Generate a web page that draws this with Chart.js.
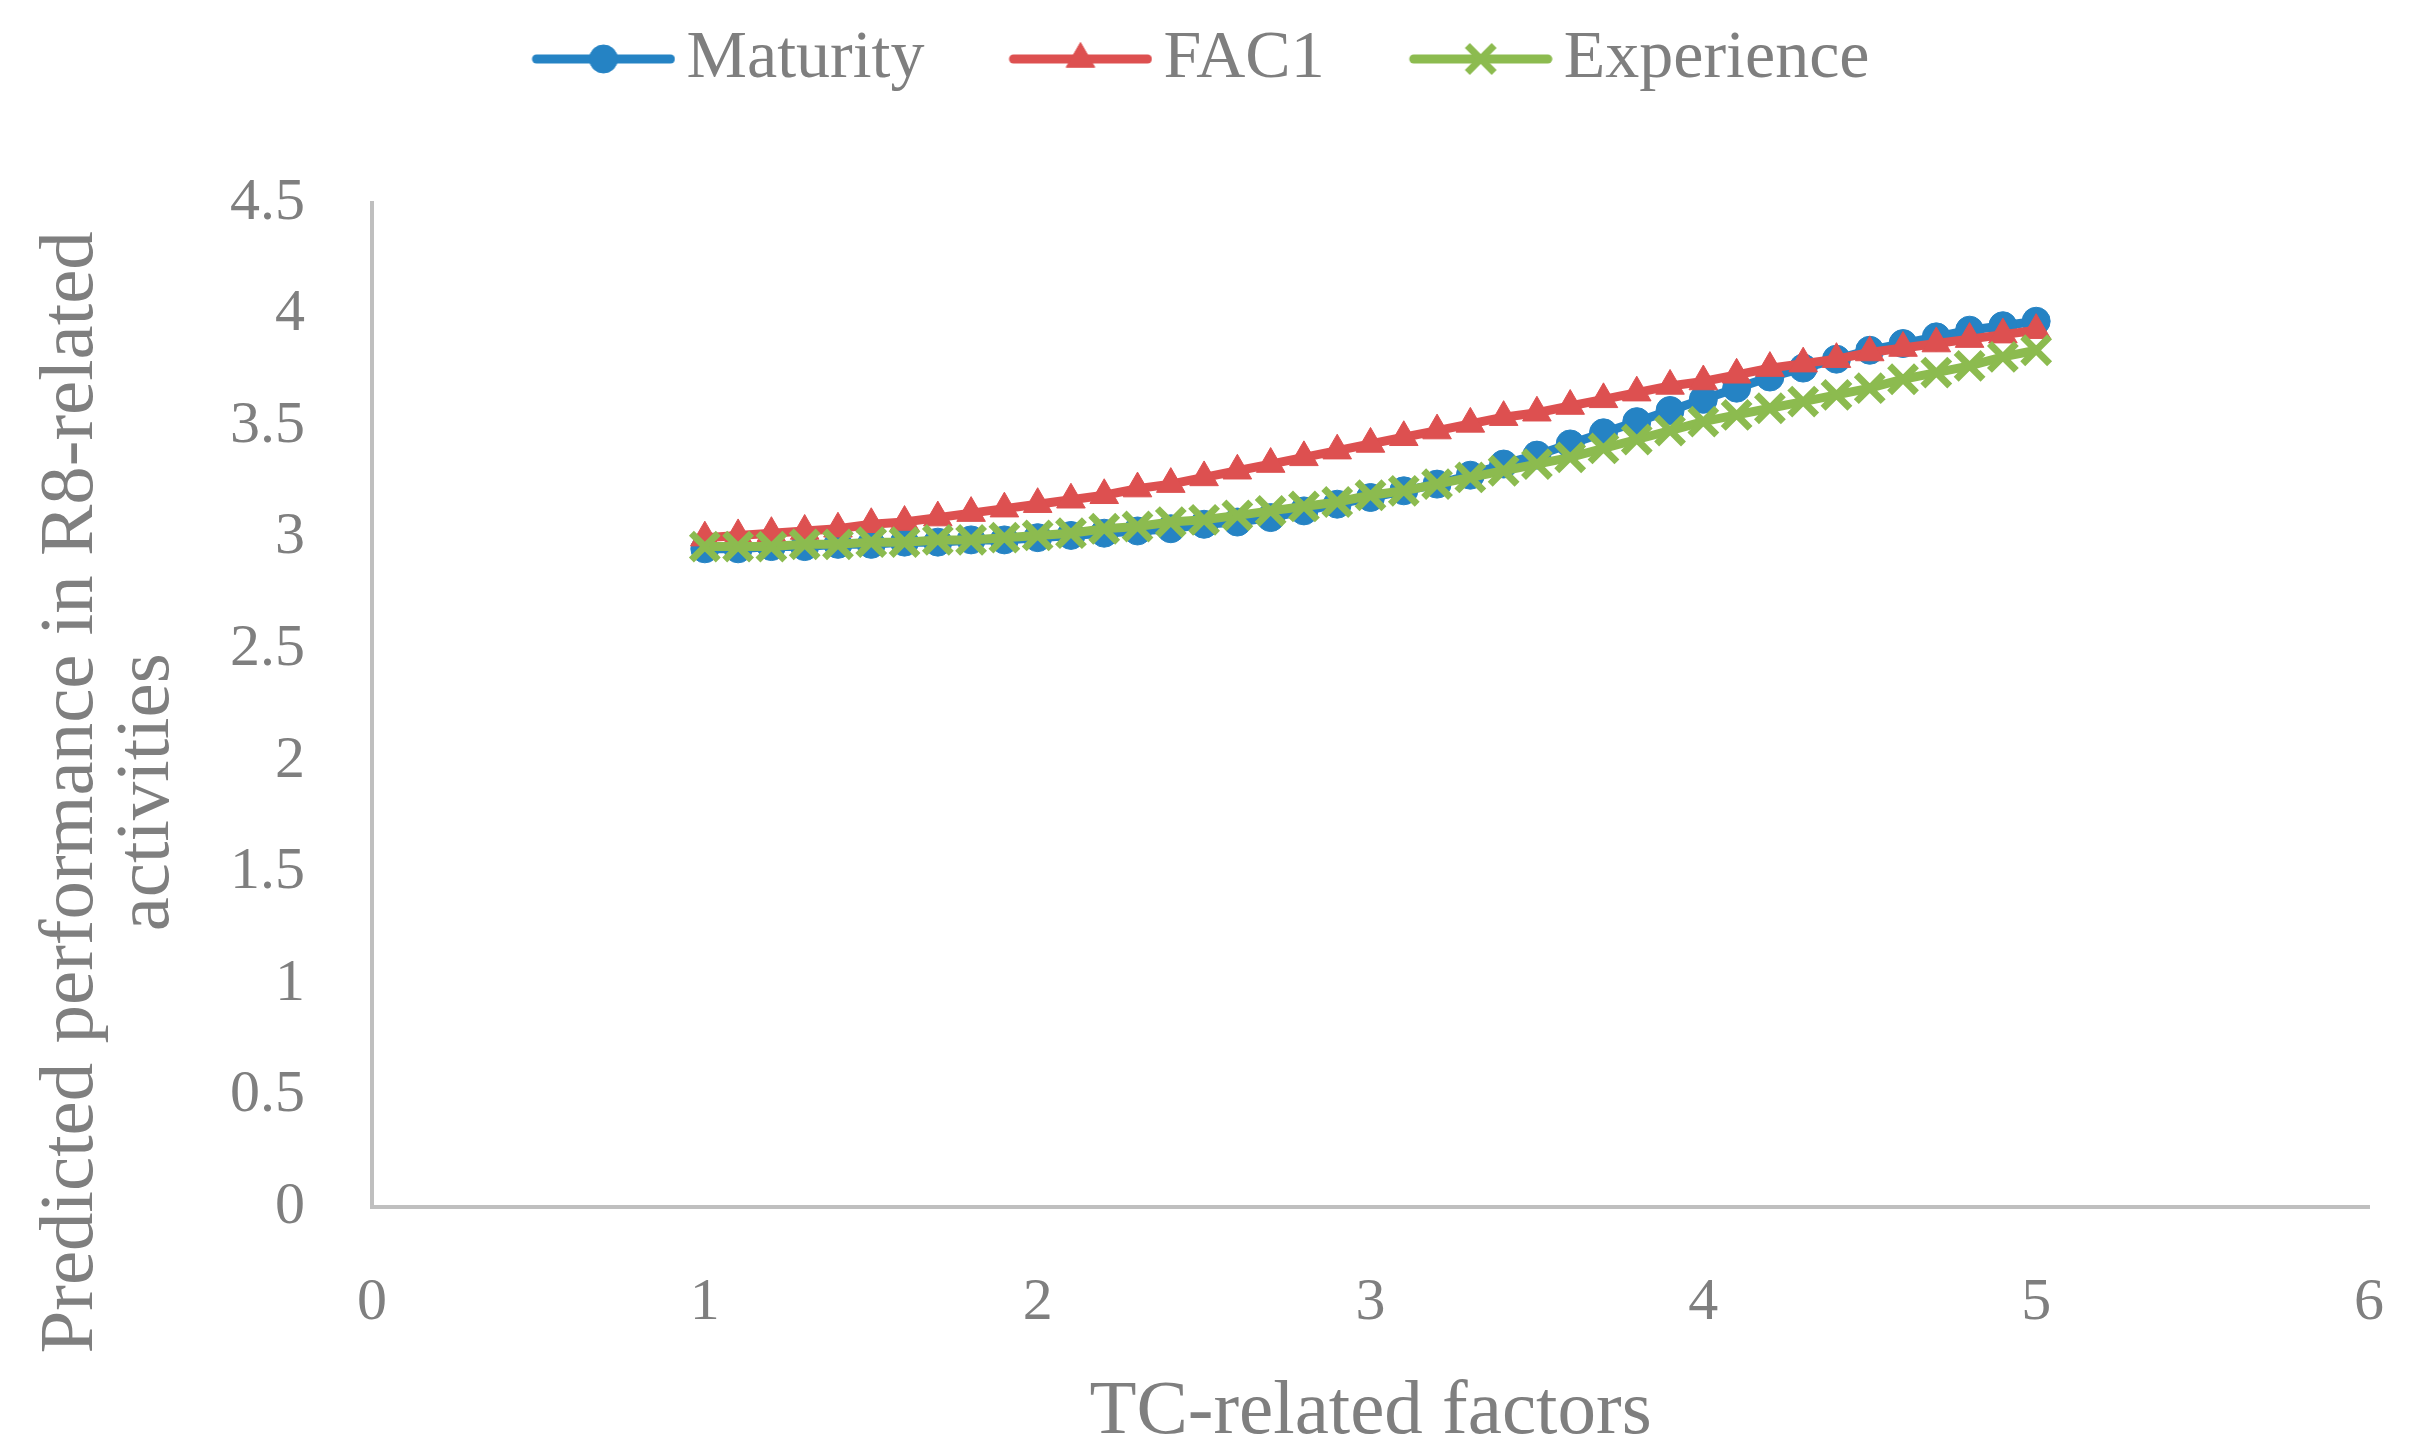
<!DOCTYPE html>
<html>
<head>
<meta charset="UTF-8">
<title>Predicted performance in R8-related activities</title>
<script src="https://cdn.jsdelivr.net/npm/chart.js"></script>
<style>
  html, body { margin: 0; padding: 0; background: #ffffff; }
  #chart { display: block; }
</style>
</head>
<body>
<canvas id="chart" width="2418" height="1451"></canvas>
<script>
// TC-related factor values (x)
const tcFactors = [1.0, 1.1, 1.2, 1.3, 1.4, 1.5, 1.6, 1.7, 1.8, 1.9,
                   2.0, 2.1, 2.2, 2.3, 2.4, 2.5, 2.6, 2.7, 2.8, 2.9,
                   3.0, 3.1, 3.2, 3.3, 3.4, 3.5, 3.6, 3.7, 3.8, 3.9,
                   4.0, 4.1, 4.2, 4.3, 4.4, 4.5, 4.6, 4.7, 4.8, 4.9, 5.0];

// predicted performance
const maturity = [2.95, 2.95, 2.96, 2.96, 2.97, 2.97, 2.98, 2.98, 2.99, 2.99,
                  3.00, 3.01, 3.02, 3.03, 3.04, 3.06, 3.07, 3.09, 3.12, 3.15,
                  3.18, 3.21, 3.24, 3.28, 3.33, 3.37, 3.42, 3.47, 3.52, 3.57,
                  3.62, 3.67, 3.72, 3.76, 3.80, 3.84, 3.87, 3.90, 3.93, 3.95, 3.97];
const fac1 = [3.00, 3.01, 3.02, 3.03, 3.04, 3.06, 3.07, 3.09, 3.11, 3.13,
              3.15, 3.17, 3.19, 3.22, 3.24, 3.27, 3.30, 3.33, 3.36, 3.39,
              3.42, 3.45, 3.48, 3.51, 3.54, 3.56, 3.59, 3.62, 3.65, 3.68,
              3.70, 3.73, 3.76, 3.78, 3.80, 3.83, 3.85, 3.87, 3.89, 3.91, 3.93];
const experience = [2.96, 2.96, 2.96, 2.97, 2.97, 2.98, 2.98, 2.99, 2.99, 3.00,
                    3.01, 3.02, 3.04, 3.05, 3.07, 3.08, 3.10, 3.12, 3.14, 3.16,
                    3.19, 3.21, 3.24, 3.27, 3.30, 3.33, 3.36, 3.40, 3.44, 3.48,
                    3.52, 3.55, 3.58, 3.61, 3.64, 3.67, 3.71, 3.74, 3.77, 3.81, 3.84];

const seriesNames = ['Maturity', 'FAC1', 'Experience'];
const xTickValues = [0, 1, 2, 3, 4, 5, 6];
const yTickValues = [0, 0.5, 1, 1.5, 2, 2.5, 3, 3.5, 4, 4.5];
const xTitle = 'TC-related factors';
const yTitleLines = ['Predicted performance in R8-related', 'activities'];

const textColor = '#7f7f7f';
const axisColor = '#bfbfbf';
const fontFamily = '"Liberation Serif", "Times New Roman", serif';
const colors = ['#2583c4', '#dd5050', '#8cbb4f'];
const markers = [
    { style: 'circle', radius: 14, border: 1 },
    { style: 'triangle', radius: 16.5, border: 1 },
    { style: 'crossRot', radius: 19, border: 7 }
];
const lineWidth = 9;

function toPoints(ys) {
    return tcFactors.map((x, i) => ({ x: x, y: ys[i] }));
}

// legend symbol: short line with the marker in the middle
const legendBoxWidth = 195;
function legendIcon(i) {
    const c = document.createElement('canvas');
    c.width = legendBoxWidth + 46;
    c.height = 52;
    const g = c.getContext('2d');
    const x0 = c.width - 144, cy = c.height / 2;
    g.strokeStyle = colors[i];
    g.fillStyle = colors[i];
    g.lineWidth = lineWidth;
    g.lineCap = 'round';
    g.beginPath();
    g.moveTo(x0 + 5, cy);
    g.lineTo(c.width - 5, cy);
    g.stroke();
    const m = markers[i];
    if (Chart.helpers && Chart.helpers.drawPoint) {
        g.lineWidth = m.border;
        g.lineCap = 'butt';
        Chart.helpers.drawPoint(g, { pointStyle: m.style, radius: m.radius, borderWidth: m.border, rotation: 0 }, x0 + 72, cy);
    }
    return c;
}

// extra space under the legend, and nudge it a little to the left
const legendGap = {
    id: 'legendGap',
    beforeLayout(chart) {
        const lg = chart.legend;
        if (lg && !lg._gapPatched) {
            const fit = lg.fit;
            lg.fit = function () { fit.call(this); this.height += 100; };
            lg._gapPatched = true;
        }
    },
    afterLayout(chart) {
        if (chart.legend) {
            chart.legend.left -= 21;
            chart.legend.right -= 21;
        }
    }
};

// two-line y axis title, placed like the original (a bit below the middle)
const yTitlePlugin = {
    id: 'yTitle',
    afterDraw(chart) {
        const { ctx, chartArea } = chart;
        const yc = chartArea.top + (chartArea.bottom - chartArea.top) * 0.587;
        ctx.save();
        ctx.fillStyle = textColor;
        ctx.font = '77px ' + fontFamily;
        ctx.textAlign = 'center';
        ctx.textBaseline = 'middle';
        yTitleLines.forEach((line, i) => {
            ctx.save();
            ctx.translate(72 + i * 76, yc);
            ctx.rotate(-Math.PI / 2);
            ctx.fillText(line, 0, 0);
            ctx.restore();
        });
        ctx.restore();
    }
};

Chart.defaults.color = textColor;
Chart.defaults.font.family = fontFamily;

const seriesData = [maturity, fac1, experience];
const datasets = seriesData.map((ys, i) => ({
    label: seriesNames[i],
    data: toPoints(ys),
    borderColor: colors[i],
    backgroundColor: colors[i],
    borderWidth: lineWidth,
    pointStyle: markers[i].style,
    pointRadius: markers[i].radius,
    pointBorderWidth: markers[i].border,
    pointHoverRadius: markers[i].radius,
    tension: 0,
    fill: false,
    order: 3 - i
}));

const icons = [0, 1, 2].map(legendIcon);

new Chart(document.getElementById('chart').getContext('2d'), {
    type: 'line',
    data: { datasets: datasets },
    plugins: [legendGap, yTitlePlugin],
    options: {
        responsive: false,
        devicePixelRatio: 1,
        animation: false,
        layout: { padding: { top: 15, right: 49, bottom: 0, left: 0 } },
        plugins: {
            tooltip: { enabled: false },
            legend: {
                position: 'top',
                labels: {
                    usePointStyle: true,
                    pointStyleWidth: legendBoxWidth,
                    padding: 10,
                    color: textColor,
                    font: { size: 68, family: fontFamily },
                    sort: (a, b) => a.datasetIndex - b.datasetIndex,
                    generateLabels(chart) {
                        const items = Chart.defaults.plugins.legend.labels.generateLabels(chart);
                        items.forEach(it => { it.pointStyle = icons[it.datasetIndex]; });
                        return items;
                    }
                }
            }
        },
        scales: {
            x: {
                type: 'linear',
                min: 0,
                max: 6,
                afterBuildTicks: scale => { scale.ticks = xTickValues.map(v => ({ value: v })); },
                afterFit: scale => { scale.height = 244; },
                grid: { display: false, drawTicks: true, tickLength: 58 },
                border: { display: true, color: axisColor, width: 4 },
                ticks: {
                    padding: 2,
                    font: { size: 60 },
                    callback: v => String(v)
                },
                title: {
                    display: true,
                    text: xTitle,
                    font: { size: 77, lineHeight: 1.0 },
                    padding: 0
                }
            },
            y: {
                type: 'linear',
                min: 0,
                max: 4.5,
                afterBuildTicks: scale => { scale.ticks = yTickValues.map(v => ({ value: v })); },
                afterFit: scale => { scale.width = 372; },
                grid: { display: false, drawTicks: true, tickLength: 60 },
                border: { display: true, color: axisColor, width: 4 },
                ticks: {
                    padding: 7,
                    font: { size: 60 },
                    callback: v => String(v)
                }
            }
        }
    }
});
</script>
</body>
</html>
